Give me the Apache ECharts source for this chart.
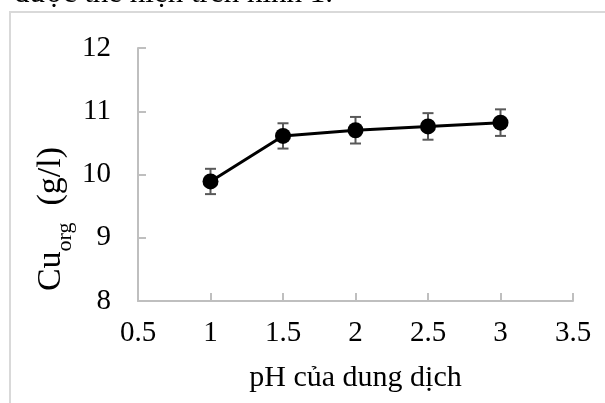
<!DOCTYPE html>
<html>
<head>
<meta charset="utf-8">
<script src="https://cdn.jsdelivr.net/npm/echarts@6/dist/echarts.min.js"></script>
<style>
html,body{margin:0;padding:0;background:#fff;}
#c{width:605px;height:403px;}
</style>
</head>
<body>
<div id="c"></div>
<script>
// Data
const phValues = [1, 1.5, 2, 2.5, 3];
const cuOrg = [9.89, 10.61, 10.70, 10.76, 10.82];
const cuErr = [0.20, 0.20, 0.21, 0.21, 0.21];
const xTitle = 'pH của dung dịch';
const captionText = 'được thể hiện trên hình 1.';

const FONT = '"Liberation Serif", "Times New Roman", serif';

const lineData = phValues.map((x, i) => [x, cuOrg[i]]);
const errData = phValues.map((x, i) => [x, cuOrg[i] - cuErr[i], cuOrg[i] + cuErr[i]]);

const chart = echarts.init(document.getElementById('c'), null, {renderer: 'canvas'});
chart.setOption({
  backgroundColor: '#fff',
  animation: false,
  grid: {left: 138, right: 32, top: 48, bottom: 102, containLabel: false},
  xAxis: {
    type: 'value', min: 0.5, max: 3.5, interval: 0.5,
    name: xTitle, nameLocation: 'middle', nameGap: 62,
    nameTextStyle: {fontFamily: FONT, fontSize: 30, color: '#000'},
    axisLine: {show: true, onZero: false, lineStyle: {color: '#bfbfbf', width: 2}},
    axisTick: {show: true, inside: true, length: 8, lineStyle: {color: '#bfbfbf', width: 2}},
    axisLabel: {fontFamily: FONT, fontSize: 29, color: '#000', margin: 18},
    splitLine: {show: false}
  },
  yAxis: {
    type: 'value', min: 8, max: 12, interval: 1,
    axisLine: {show: true, lineStyle: {color: '#bfbfbf', width: 2}},
    axisTick: {show: true, inside: true, length: 8, lineStyle: {color: '#bfbfbf', width: 2}},
    axisLabel: {fontFamily: FONT, fontSize: 29, color: '#000', margin: 27},
    splitLine: {show: false}
  },
  graphic: [
    {type: 'rect', shape: {x: 10, y: 12, width: 640, height: 450},
     style: {fill: 'none', stroke: '#d9d9d9', lineWidth: 2}, silent: true, z: -10},
    {type: 'text', x: 14, y: 9,
     style: {text: captionText, fontFamily: FONT, fontSize: 31, fill: '#000',
             textAlign: 'left', textVerticalAlign: 'bottom'}},
    {type: 'text', x: 55, y: 219, rotation: Math.PI / 2,
     style: {
       text: '{a|Cu}{b|org}{a|  (g/l)}',
       textAlign: 'center', textVerticalAlign: 'middle',
       rich: {
         a: {fontFamily: FONT, fontSize: 34, fill: '#000', lineHeight: 42, verticalAlign: 'top'},
         b: {fontFamily: FONT, fontSize: 22, fill: '#000', lineHeight: 42, verticalAlign: 'bottom'}
       }
     }}
  ],
  series: [
    {
      type: 'custom',
      renderItem: function (params, api) {
        const x = api.value(0);
        const lo = api.coord([x, api.value(1)]);
        const hi = api.coord([x, api.value(2)]);
        const hw = 5.5;
        const st = {stroke: '#595959', lineWidth: 2};
        return {
          type: 'group',
          children: [
            {type: 'line', shape: {x1: lo[0], y1: lo[1], x2: hi[0], y2: hi[1]}, style: st},
            {type: 'line', shape: {x1: lo[0] - hw, y1: lo[1], x2: lo[0] + hw, y2: lo[1]}, style: st},
            {type: 'line', shape: {x1: hi[0] - hw, y1: hi[1], x2: hi[0] + hw, y2: hi[1]}, style: st}
          ]
        };
      },
      data: errData,
      encode: {x: 0, y: [1, 2]},
      z: 1
    },
    {
      type: 'line',
      data: lineData,
      symbol: 'circle', symbolSize: 16,
      lineStyle: {color: '#000', width: 3},
      itemStyle: {color: '#000'},
      z: 2
    }
  ]
});
</script>
</body>
</html>
